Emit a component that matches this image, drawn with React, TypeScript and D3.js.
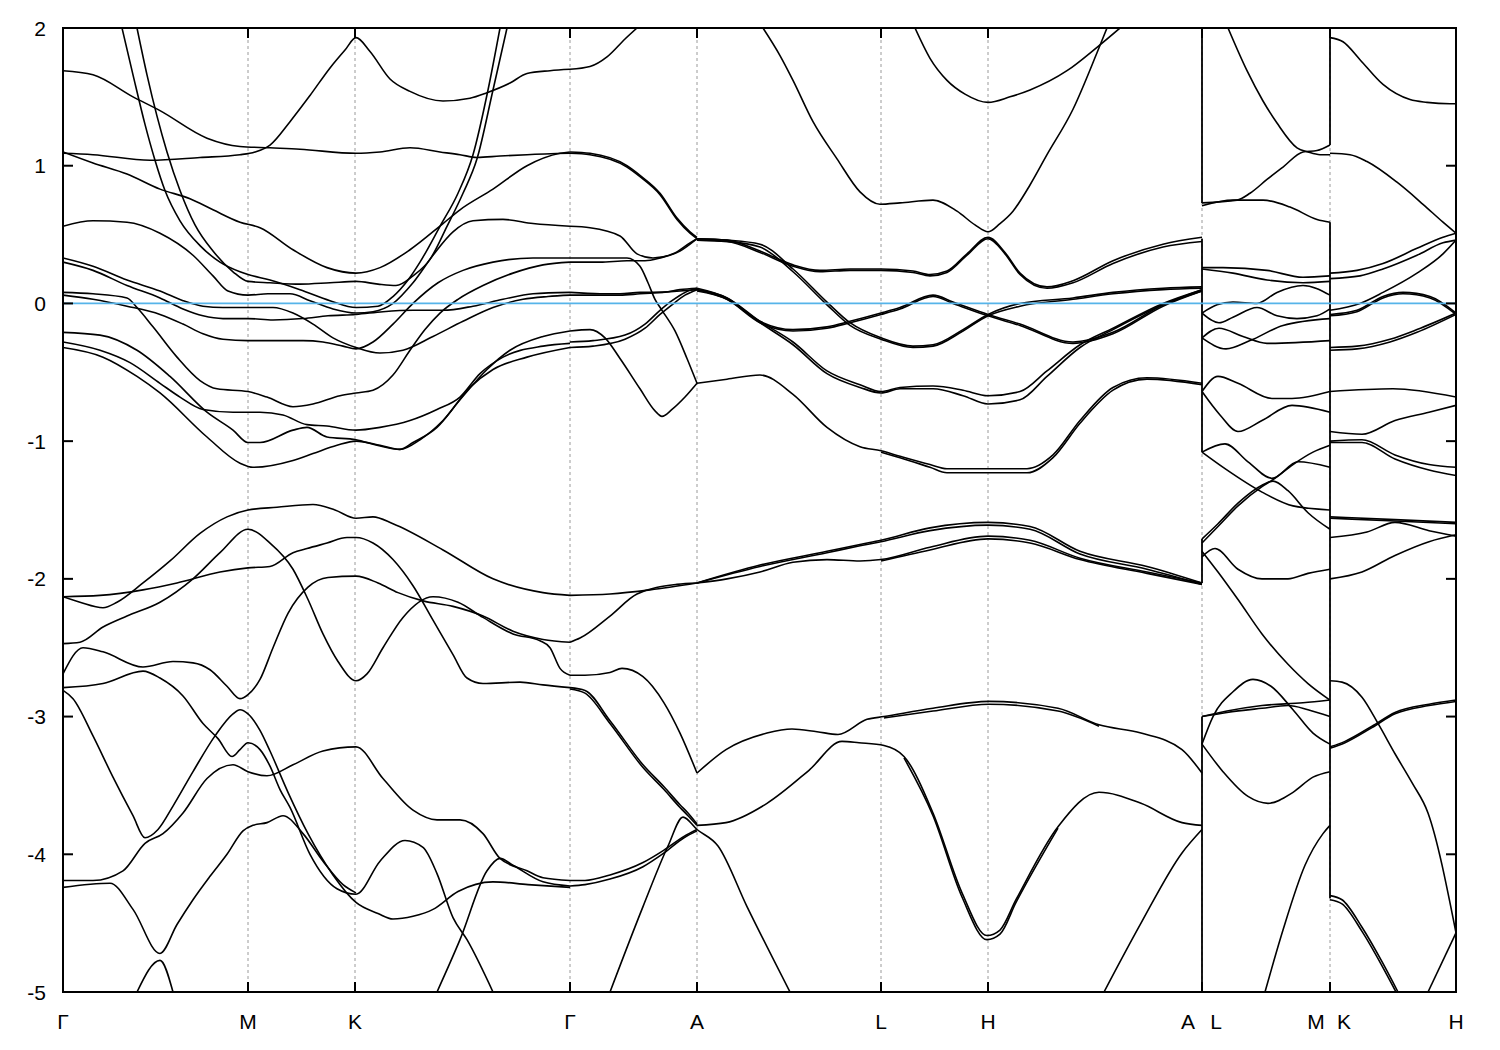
import React from 'react';
import * as d3 from 'd3';

type Pt = [number, number];

// High-symmetry points along the k-path (path-length units)
const kTicks = [0, 1.85, 2.92, 5.07, 6.34, 8.18, 9.25, 11.39, 12.67, 13.93];
const kLabels = ['Γ', 'M', 'K', 'Γ', 'A', 'L', 'H', 'A L', 'M K', 'H'];
const eTicks = [-5, -4, -3, -2, -1, 0, 1, 2];
const fermiLevel = 0;

// Band discontinuities at A|L and M|K (k, E top, E bottom)
const jumpK = [11.39, 11.39, 11.39, 11.39, 12.67, 12.67];
const jumpTop = [2.0, 0.47, -1.71, -3.0, 2.0, 0.59];
const jumpBottom = [0.73, -1.08, -2.03, -5.0, 1.15, -4.32];

// Γ - M - K - Γ
const bandsGMKG: Pt[][] = [
  [[0,1.09],[0.30,1.08],[0.87,1.04],[1.37,1.06],[1.77,1.08],[1.92,1.10],[2.07,1.15],[2.27,1.32],[2.47,1.51],[2.67,1.71],[2.82,1.84],[2.93,1.93],[3.07,1.83],[3.27,1.63],[3.47,1.54],[3.80,1.47],[4.07,1.49],[4.24,1.53],[4.47,1.60],[4.64,1.67],[4.87,1.69],[5.07,1.70]],
  [[0,1.69],[0.30,1.66],[0.70,1.50],[0.97,1.40],[1.44,1.20],[1.77,1.14],[2.07,1.13],[2.37,1.12],[2.93,1.09],[3.17,1.10],[3.47,1.13],[3.77,1.10],[3.97,1.08],[4.14,1.06],[4.37,1.07],[4.64,1.08],[5.07,1.09]],
  [[0,1.10],[0.30,1.02],[0.64,0.94],[0.97,0.83],[1.27,0.76],[1.50,0.68],[1.77,0.59],[1.97,0.55],[2.30,0.39],[2.64,0.26],[2.93,0.22],[3.17,0.26],[3.47,0.39],[3.80,0.58],[3.97,0.68],[4.30,0.83],[4.64,1.0],[4.97,1.09],[5.07,1.10]],
  [[0,0.56],[0.30,0.60],[0.64,0.59],[0.97,0.51],[1.30,0.35],[1.50,0.20],[1.65,0.09],[1.85,0.06],[2.05,0.07],[2.27,0.07],[2.47,0.02],[2.70,-0.04],[2.93,-0.07],[3.10,-0.06],[3.30,0.0],[3.50,0.15],[3.70,0.35],[3.90,0.52],[4.10,0.60],[4.40,0.61],[4.70,0.58],[5.07,0.56]],
  [[0.59,2.0],[0.70,1.66],[0.82,1.30],[0.92,1.04],[1.02,0.82],[1.17,0.60],[1.37,0.42],[1.57,0.30],[1.77,0.23],[1.85,0.21],[2.07,0.17],[2.37,0.10],[2.67,0.02],[2.93,-0.03],[3.15,-0.02],[3.30,0.05],[3.45,0.17],[3.57,0.30],[3.77,0.56],[3.95,0.80],[4.10,1.08],[4.25,1.55],[4.37,2.0]],
  [[0.74,2.0],[0.84,1.66],[0.94,1.36],[1.04,1.10],[1.17,0.82],[1.32,0.57],[1.50,0.38],[1.70,0.23],[1.85,0.16],[2.07,0.15],[2.37,0.14],[2.67,0.15],[2.93,0.16],[3.15,0.14],[3.33,0.13],[3.50,0.20],[3.67,0.32],[3.84,0.56],[4.00,0.80],[4.14,1.05],[4.30,1.55],[4.44,2.0]],
  [[0,0.33],[0.30,0.27],[0.64,0.17],[0.97,0.09],[1.20,0.02],[1.40,-0.02],[1.60,-0.03],[1.85,-0.03],[2.10,-0.03],[2.30,-0.07],[2.50,-0.15],[2.70,-0.25],[2.93,-0.32],[3.17,-0.36],[3.40,-0.34],[3.70,-0.24],[4.00,-0.13],[4.30,-0.03],[4.60,0.03],[4.85,0.05],[5.07,0.06]],
  [[0,0.30],[0.30,0.24],[0.64,0.13],[0.97,0.04],[1.20,-0.04],[1.40,-0.09],[1.60,-0.11],[1.85,-0.11],[2.10,-0.12],[2.40,-0.11],[2.65,-0.09],[2.93,-0.08],[3.20,-0.06],[3.50,-0.05],[3.80,-0.05],[4.10,-0.02],[4.40,0.03],[4.70,0.07],[5.07,0.08]],
  [[0,0.08],[0.30,0.07],[0.64,0.04],[0.74,-0.03],[0.90,-0.17],[1.14,-0.39],[1.37,-0.56],[1.54,-0.62],[1.85,-0.64],[2.04,-0.68],[2.30,-0.75],[2.50,-0.73],[2.77,-0.67],[2.93,-0.65],[3.10,-0.63],[3.30,-0.52],[3.47,-0.34],[3.62,-0.19],[3.77,-0.07],[3.95,0.03],[4.20,0.13],[4.50,0.22],[4.80,0.28],[5.07,0.30]],
  [[0,0.06],[0.30,0.03],[0.64,-0.02],[0.97,-0.08],[1.20,-0.15],[1.40,-0.22],[1.60,-0.26],[1.85,-0.27],[2.10,-0.27],[2.40,-0.27],[2.60,-0.28],[2.80,-0.31],[2.93,-0.33],[3.10,-0.28],[3.30,-0.15],[3.50,0.0],[3.75,0.15],[4.00,0.24],[4.30,0.30],[4.70,0.33],[5.07,0.33]],
  [[0,-0.21],[0.37,-0.23],[0.74,-0.34],[1.07,-0.53],[1.44,-0.79],[1.70,-0.92],[1.85,-1.01],[1.97,-1.01],[2.30,-0.92],[2.44,-0.90],[2.64,-0.97],[2.93,-0.99],[3.14,-1.03],[3.37,-1.06],[3.50,-1.01],[3.74,-0.90],[3.97,-0.70],[4.24,-0.48],[4.47,-0.34],[4.80,-0.24],[5.07,-0.20]],
  [[0,-0.28],[0.37,-0.34],[0.67,-0.43],[0.97,-0.58],[1.17,-0.68],[1.40,-0.77],[1.70,-0.79],[1.97,-0.79],[2.20,-0.81],[2.44,-0.88],[2.64,-0.89],[2.93,-0.92],[3.17,-0.90],[3.47,-0.85],[3.74,-0.77],[3.97,-0.68],[4.17,-0.51],[4.40,-0.39],[4.80,-0.31],[5.07,-0.29]],
  [[0,-0.32],[0.40,-0.39],[0.74,-0.53],[0.97,-0.65],[1.44,-0.97],[1.77,-1.16],[1.90,-1.19],[2.30,-1.14],[2.50,-1.09],[2.74,-1.03],[2.93,-1.0],[3.17,-1.03],[3.37,-1.06],[3.57,-0.99],[3.80,-0.85],[4.07,-0.61],[4.30,-0.48],[4.64,-0.39],[5.07,-0.32]],
  [[0,-2.13],[0.37,-2.12],[0.80,-2.08],[1.14,-2.03],[1.57,-1.95],[1.85,-1.92],[2.07,-1.91],[2.30,-1.81],[2.44,-1.78],[2.64,-1.74],[2.84,-1.70],[2.93,-1.70],[3.10,-1.74],[3.30,-1.86],[3.50,-2.05],[3.70,-2.30],[3.90,-2.55],[4.04,-2.72],[4.20,-2.76],[4.57,-2.75],[4.80,-2.77],[5.07,-2.79]],
  [[0,-2.13],[0.17,-2.17],[0.40,-2.21],[0.54,-2.17],[0.80,-2.03],[1.07,-1.87],[1.37,-1.67],[1.64,-1.55],[1.85,-1.50],[2.14,-1.48],[2.50,-1.46],[2.72,-1.50],[2.93,-1.56],[3.10,-1.55],[3.30,-1.60],[3.80,-1.79],[4.30,-2.0],[4.80,-2.10],[5.07,-2.12]],
  [[0,-2.47],[0.17,-2.46],[0.40,-2.35],[0.64,-2.27],[0.97,-2.17],[1.30,-2.0],[1.57,-1.81],[1.85,-1.64],[2.07,-1.74],[2.30,-1.93],[2.45,-2.15],[2.60,-2.40],[2.75,-2.60],[2.93,-2.74],[3.04,-2.69],[3.20,-2.50],[3.40,-2.28],[3.70,-2.13],[3.95,-2.17],[4.20,-2.28],[4.50,-2.40],[4.77,-2.45],[4.87,-2.50],[4.97,-2.65],[5.07,-2.70]],
  [[0,-2.69],[0.20,-2.50],[0.40,-2.53],[0.80,-2.64],[1.10,-2.60],[1.30,-2.61],[1.47,-2.66],[1.64,-2.78],[1.77,-2.87],[1.85,-2.84],[1.97,-2.73],[2.10,-2.50],[2.25,-2.25],[2.45,-2.06],[2.65,-1.99],[2.93,-1.98],[3.15,-2.03],[3.35,-2.10],[3.60,-2.16],[3.90,-2.20],[4.20,-2.27],[4.50,-2.38],[4.80,-2.44],[5.07,-2.46]],
  [[0,-2.79],[0.40,-2.76],[0.80,-2.67],[0.97,-2.72],[1.20,-2.85],[1.40,-3.05],[1.55,-3.16],[1.69,-3.29],[1.77,-3.24],[1.85,-3.19],[1.97,-3.24],[2.07,-3.36],[2.17,-3.53],[2.27,-3.66],[2.47,-4.0],[2.74,-4.25],[2.93,-4.29],[3.17,-4.05],[3.42,-3.90],[3.60,-3.95],[3.74,-4.14],[3.90,-4.46],[4.04,-4.62],[4.30,-5.0]],
  [[0,-2.81],[0.10,-2.87],[0.30,-3.14],[0.50,-3.44],[0.70,-3.72],[0.82,-3.88],[0.95,-3.82],[1.10,-3.65],[1.30,-3.40],[1.52,-3.14],[1.70,-2.98],[1.77,-2.95],[1.85,-2.98],[1.97,-3.10],[2.07,-3.25],[2.25,-3.55],[2.45,-3.85],[2.70,-4.15],[2.93,-4.35],[3.15,-4.43],[3.30,-4.47],[3.50,-4.45],[3.70,-4.40],[3.95,-4.27],[4.30,-4.20],[4.65,-4.22],[5.07,-4.24]],
  [[0,-4.19],[0.30,-4.19],[0.60,-4.12],[0.82,-3.92],[1.00,-3.85],[1.20,-3.70],[1.44,-3.45],[1.70,-3.35],[1.85,-3.40],[2.04,-3.43],[2.30,-3.35],[2.60,-3.25],[2.93,-3.22],[3.20,-3.45],[3.50,-3.68],[3.74,-3.75],[3.97,-3.75],[4.20,-3.85],[4.37,-4.03],[4.64,-4.12],[4.80,-4.17],[5.07,-4.19]],
  [[0,-4.24],[0.47,-4.21],[0.70,-4.40],[0.97,-4.72],[1.14,-4.51],[1.30,-4.33],[1.47,-4.16],[1.64,-4.0],[1.80,-3.83],[1.90,-3.79],[2.04,-3.77],[2.20,-3.72],[2.40,-3.85],[2.60,-4.05],[2.80,-4.22],[2.93,-4.28]],
  [[0.74,-5.0],[0.97,-4.77],[1.10,-5.0]],
  [[3.74,-5.0],[3.97,-4.62],[4.24,-4.12],[4.37,-4.03],[4.50,-4.08],[4.80,-4.20],[5.07,-4.23]],
];

// Γ - A
const bandsGA: Pt[][] = [
  [[5.07,1.70],[5.27,1.72],[5.44,1.79],[5.62,1.92],[5.74,2.0]],
  [[5.07,1.10],[5.27,1.09],[5.64,1.00],[5.77,0.93],[5.97,0.80],[6.14,0.62],[6.27,0.52],[6.34,0.48]],
  [[5.07,1.09],[5.27,1.08],[5.64,0.99],[5.77,0.92],[5.97,0.79],[6.14,0.61],[6.27,0.51],[6.34,0.47]],
  [[5.07,0.56],[5.27,0.55],[5.57,0.49],[5.74,0.36],[5.90,0.33],[6.10,0.36],[6.27,0.44],[6.34,0.47]],
  [[5.07,0.33],[5.37,0.33],[5.64,0.33],[5.77,0.27],[5.85,0.15],[5.92,0.03],[5.99,-0.05],[6.12,-0.20],[6.24,-0.40],[6.34,-0.58]],
  [[5.07,0.30],[5.37,0.30],[5.64,0.31],[5.82,0.31],[5.97,0.33],[6.17,0.38],[6.34,0.47]],
  [[5.07,-0.28],[5.30,-0.27],[5.62,-0.23],[5.82,-0.15],[5.97,-0.05],[6.09,0.02],[6.22,0.08],[6.34,0.11]],
  [[5.07,-0.32],[5.30,-0.31],[5.62,-0.26],[5.82,-0.18],[5.97,-0.08],[6.09,-0.01],[6.22,0.06],[6.34,0.10]],
  [[5.07,0.08],[5.37,0.07],[5.57,0.07],[5.77,0.08],[5.97,0.08],[6.17,0.10],[6.34,0.11]],
  [[5.07,0.06],[5.37,0.06],[5.57,0.06],[5.77,0.07],[5.97,0.08],[6.17,0.09],[6.34,0.10]],
  [[5.07,-0.20],[5.27,-0.19],[5.42,-0.25],[5.57,-0.40],[5.77,-0.62],[5.92,-0.78],[5.99,-0.82],[6.09,-0.77],[6.22,-0.68],[6.34,-0.58]],
  [[5.07,-2.12],[5.47,-2.11],[5.87,-2.08],[6.34,-2.03]],
  [[5.07,-2.46],[5.17,-2.43],[5.47,-2.27],[5.74,-2.11],[6.14,-2.04],[6.34,-2.03]],
  [[5.07,-2.70],[5.22,-2.70],[5.47,-2.68],[5.59,-2.65],[5.80,-2.71],[6.01,-2.90],[6.17,-3.12],[6.34,-3.41]],
  [[5.07,-2.80],[5.22,-2.83],[5.47,-3.05],[5.80,-3.37],[6.01,-3.53],[6.17,-3.66],[6.25,-3.72],[6.34,-3.79]],
  [[5.07,-2.79],[5.22,-2.81],[5.47,-3.03],[5.80,-3.35],[6.01,-3.51],[6.17,-3.64],[6.25,-3.70],[6.34,-3.78]],
  [[5.07,-4.19],[5.22,-4.19],[5.47,-4.15],[5.80,-4.06],[6.01,-3.97],[6.21,-3.87],[6.34,-3.82]],
  [[5.07,-4.23],[5.22,-4.22],[5.47,-4.18],[5.80,-4.09],[6.01,-3.99],[6.21,-3.88],[6.34,-3.83]],
  [[5.47,-5.0],[5.80,-4.38],[6.05,-3.94],[6.20,-3.73],[6.34,-3.82],[6.55,-3.94],[6.84,-4.38],[7.27,-5.0]],
];

// A - L - H - A
const bandsALHA: Pt[][] = [
  [[7.00,2.0],[7.17,1.80],[7.30,1.62],[7.50,1.32],[7.74,1.05],[7.97,0.81],[8.17,0.72],[8.37,0.73],[8.70,0.75],[8.94,0.67],[9.12,0.57],[9.25,0.52],[9.37,0.58],[9.50,0.67],[9.67,0.86],[9.84,1.08],[10.10,1.41],[10.34,1.82],[10.44,2.0]],
  [[8.52,2.0],[8.67,1.78],[8.84,1.62],[9.02,1.52],[9.25,1.46],[9.47,1.50],[9.67,1.55],[10.04,1.69],[10.34,1.86],[10.57,2.0]],
  [[6.34,0.47],[6.64,0.46],[6.97,0.38],[7.30,0.28],[7.57,0.24],[7.87,0.25],[8.18,0.25],[8.50,0.235],[8.67,0.21],[8.84,0.235],[9.04,0.36],[9.25,0.48],[9.42,0.37],[9.57,0.22],[9.84,0.12],[10.10,0.165],[10.50,0.31],[11.0,0.43],[11.39,0.48]],
  [[6.34,0.46],[6.64,0.45],[6.97,0.37],[7.30,0.27],[7.57,0.23],[7.87,0.24],[8.18,0.24],[8.50,0.225],[8.67,0.20],[8.84,0.225],[9.04,0.35],[9.25,0.47],[9.42,0.36],[9.57,0.21],[9.84,0.11],[10.10,0.15],[10.50,0.29],[11.0,0.41],[11.39,0.45]],
  [[6.34,0.47],[6.64,0.46],[6.97,0.43],[7.30,0.25],[7.64,0.01],[7.87,-0.14],[8.18,-0.25],[8.50,-0.31],[8.70,-0.30],[9.00,-0.19],[9.25,-0.08],[9.57,0.0],[10.10,0.04],[10.50,0.08],[11.0,0.11],[11.39,0.12]],
  [[6.34,0.46],[6.64,0.45],[6.97,0.41],[7.30,0.23],[7.64,-0.01],[7.87,-0.16],[8.18,-0.26],[8.50,-0.32],[8.70,-0.31],[9.00,-0.20],[9.25,-0.09],[9.57,-0.02],[10.10,0.03],[10.50,0.07],[11.0,0.10],[11.39,0.11]],
  [[6.34,0.11],[6.64,0.04],[6.97,-0.13],[7.30,-0.19],[7.64,-0.17],[7.87,-0.13],[8.18,-0.07],[8.37,-0.03],[8.70,0.06],[8.90,0.01],[9.25,-0.08],[9.57,-0.15],[10.10,-0.28],[10.50,-0.21],[11.0,-0.01],[11.39,0.10]],
  [[6.34,0.10],[6.64,0.03],[6.97,-0.14],[7.30,-0.20],[7.64,-0.18],[7.87,-0.14],[8.18,-0.08],[8.37,-0.04],[8.70,0.05],[8.90,0.0],[9.25,-0.09],[9.57,-0.16],[10.10,-0.29],[10.50,-0.22],[11.0,-0.02],[11.39,0.09]],
  [[6.34,0.10],[6.64,0.04],[6.97,-0.13],[7.30,-0.28],[7.64,-0.49],[7.97,-0.59],[8.18,-0.64],[8.37,-0.61],[8.70,-0.60],[9.00,-0.63],[9.25,-0.67],[9.57,-0.64],[9.84,-0.49],[10.17,-0.30],[10.50,-0.18],[11.0,0.0],[11.39,0.10]],
  [[6.34,0.09],[6.64,0.03],[6.97,-0.14],[7.30,-0.30],[7.64,-0.51],[7.97,-0.61],[8.18,-0.65],[8.37,-0.62],[8.70,-0.62],[9.00,-0.67],[9.25,-0.73],[9.57,-0.70],[9.84,-0.53],[10.17,-0.32],[10.50,-0.19],[11.0,-0.01],[11.39,0.09]],
  [[6.34,-0.58],[6.64,-0.55],[6.97,-0.52],[7.30,-0.66],[7.64,-0.90],[7.97,-1.04],[8.18,-1.07],[8.37,-1.11],[8.67,-1.17],[8.84,-1.20],[9.25,-1.20],[9.64,-1.20],[9.90,-1.10],[10.17,-0.85],[10.50,-0.61],[10.84,-0.54],[11.39,-0.58]],
  [[8.18,-1.08],[8.37,-1.12],[8.67,-1.19],[8.84,-1.23],[9.25,-1.23],[9.64,-1.23],[9.90,-1.12],[10.17,-0.87],[10.50,-0.63],[10.84,-0.55],[11.39,-0.59]],
  [[6.34,-2.03],[6.97,-1.90],[7.64,-1.80],[7.97,-1.75],[8.18,-1.72],[8.67,-1.63],[9.25,-1.59],[9.67,-1.62],[10.17,-1.80],[10.84,-1.91],[11.39,-2.03]],
  [[6.34,-2.03],[6.97,-1.91],[7.64,-1.81],[7.97,-1.76],[8.18,-1.73],[8.67,-1.65],[9.25,-1.61],[9.67,-1.64],[10.17,-1.82],[10.84,-1.93],[11.39,-2.04]],
  [[6.34,-2.03],[6.64,-2.0],[6.97,-1.95],[7.30,-1.88],[7.64,-1.86],[7.97,-1.87],[8.18,-1.86],[8.67,-1.77],[9.25,-1.69],[9.67,-1.72],[10.17,-1.85],[10.84,-1.95],[11.39,-2.03]],
  [[8.18,-1.87],[8.67,-1.79],[9.25,-1.71],[9.67,-1.74],[10.17,-1.86],[10.84,-1.96],[11.39,-2.04]],
  [[6.34,-3.41],[6.63,-3.24],[7.04,-3.12],[7.29,-3.09],[7.54,-3.11],[7.75,-3.13],[8.04,-3.02],[8.21,-3.0],[8.70,-2.94],[9.26,-2.89],[9.95,-2.94],[10.36,-3.06],[10.78,-3.12],[11.19,-3.24],[11.39,-3.41]],
  [[8.21,-3.01],[8.70,-2.96],[9.26,-2.91],[9.95,-2.96],[10.36,-3.07]],
  [[6.34,-3.79],[6.63,-3.77],[7.04,-3.63],[7.46,-3.39],[7.79,-3.18],[7.96,-3.19],[8.21,-3.21],[8.41,-3.29],[8.70,-3.70],[8.99,-4.28],[9.24,-4.59],[9.37,-4.55],[9.53,-4.33],[9.95,-3.80],[10.36,-3.55],[10.78,-3.63],[11.19,-3.77],[11.39,-3.79]],
  [[8.41,-3.30],[8.70,-3.72],[8.99,-4.31],[9.24,-4.62],[9.37,-4.58],[9.53,-4.35],[9.95,-3.81]],
  [[10.41,-5.0],[10.78,-4.5],[11.19,-3.99],[11.39,-3.82]],
];

// L - M
const bandsLM: Pt[][] = [
  [[11.65,2.0],[11.84,1.69],[12.0,1.47],[12.14,1.31],[12.34,1.13],[12.45,1.10],[12.57,1.08],[12.67,1.08]],
  [[11.39,0.73],[11.74,0.75],[11.87,0.80],[12.04,0.90],[12.20,0.99],[12.40,1.10],[12.54,1.11],[12.67,1.15]],
  [[11.39,0.71],[11.70,0.75],[12.0,0.75],[12.27,0.70],[12.54,0.61],[12.67,0.59]],
  [[11.39,0.26],[11.60,0.26],[12.04,0.24],[12.40,0.19],[12.67,0.20]],
  [[11.39,0.25],[11.70,0.22],[12.04,0.17],[12.40,0.15],[12.67,0.16]],
  [[11.39,-0.07],[11.54,-0.01],[11.70,0.01],[11.94,0.0],[12.14,0.08],[12.40,0.13],[12.67,0.06]],
  [[11.39,-0.07],[11.56,-0.14],[11.70,-0.10],[11.94,-0.03],[12.14,-0.09],[12.34,-0.11],[12.54,-0.09],[12.67,-0.04]],
  [[11.39,-0.25],[11.56,-0.18],[11.80,-0.24],[12.04,-0.29],[12.67,-0.27]],
  [[11.39,-0.25],[11.63,-0.33],[11.87,-0.27],[12.20,-0.16],[12.67,-0.11]],
  [[11.39,-0.64],[11.55,-0.53],[11.75,-0.58],[12.09,-0.69],[12.29,-0.69],[12.67,-0.64]],
  [[11.39,-0.64],[11.57,-0.81],[11.75,-0.93],[11.99,-0.85],[12.29,-0.74],[12.67,-0.79]],
  [[11.39,-1.08],[11.62,-1.02],[11.85,-1.15],[12.09,-1.27],[12.35,-1.15],[12.67,-1.19]],
  [[11.39,-1.08],[11.62,-1.20],[11.99,-1.37],[12.30,-1.47],[12.67,-1.50]],
  [[11.39,-1.71],[11.55,-1.60],[11.75,-1.45],[11.99,-1.32],[12.10,-1.29],[12.25,-1.36],[12.45,-1.52],[12.67,-1.64]],
  [[11.39,-1.74],[11.55,-1.62],[11.75,-1.47],[11.99,-1.33],[12.10,-1.28],[12.30,-1.17],[12.50,-1.08],[12.67,-1.03]],
  [[11.39,-1.80],[11.55,-1.95],[11.75,-2.15],[11.99,-2.40],[12.25,-2.62],[12.45,-2.76],[12.67,-2.88]],
  [[11.39,-1.84],[11.52,-1.78],[11.75,-1.93],[11.99,-2.0],[12.25,-2.0],[12.45,-1.96],[12.67,-1.93]],
  [[11.39,-3.0],[11.64,-2.96],[11.99,-2.92],[12.40,-2.90],[12.67,-2.88]],
  [[11.39,-3.0],[11.64,-2.97],[11.99,-2.94],[12.25,-2.92],[12.45,-2.95],[12.67,-3.0]],
  [[11.39,-3.20],[11.50,-3.0],[11.70,-2.82],[11.90,-2.73],[12.08,-2.78],[12.30,-2.95],[12.50,-3.12],[12.67,-3.20]],
  [[11.39,-3.20],[11.60,-3.40],[11.85,-3.58],[12.05,-3.63],[12.30,-3.55],[12.50,-3.44],[12.67,-3.40]],
  [[12.02,-5.0],[12.20,-4.55],[12.42,-4.08],[12.60,-3.85],[12.67,-3.79]],
];

// K - H
const bandsKH: Pt[][] = [
  [[12.67,1.93],[12.80,1.90],[12.97,1.77],[13.20,1.59],[13.47,1.48],[13.64,1.46],[13.87,1.45],[13.93,1.45]],
  [[12.67,1.09],[12.87,1.08],[13.04,1.03],[13.34,0.88],[13.60,0.72],[13.80,0.59],[13.93,0.51]],
  [[12.67,0.22],[12.94,0.24],[13.20,0.29],[13.54,0.40],[13.80,0.48],[13.93,0.51]],
  [[12.67,0.18],[12.97,0.20],[13.20,0.25],[13.54,0.35],[13.80,0.44],[13.93,0.46]],
  [[12.67,-0.05],[12.97,0.0],[13.20,0.08],[13.54,0.22],[13.80,0.36],[13.93,0.46]],
  [[12.67,-0.08],[12.94,-0.05],[13.20,0.05],[13.40,0.08],[13.67,0.05],[13.93,-0.07]],
  [[12.67,-0.09],[12.94,-0.06],[13.20,0.04],[13.40,0.07],[13.67,0.04],[13.93,-0.08]],
  [[12.67,-0.32],[12.94,-0.31],[13.27,-0.26],[13.54,-0.19],[13.93,-0.07]],
  [[12.67,-0.34],[12.94,-0.33],[13.27,-0.28],[13.54,-0.21],[13.93,-0.08]],
  [[12.67,-0.64],[13.30,-0.62],[13.93,-0.68]],
  [[12.67,-0.93],[12.99,-0.95],[13.32,-0.85],[13.66,-0.79],[13.93,-0.74]],
  [[12.67,-1.0],[12.99,-0.99],[13.32,-1.10],[13.66,-1.17],[13.93,-1.19]],
  [[12.67,-1.01],[12.99,-1.01],[13.32,-1.13],[13.66,-1.21],[13.93,-1.25]],
  [[12.67,-1.55],[13.32,-1.57],[13.93,-1.59]],
  [[12.67,-1.56],[13.32,-1.58],[13.93,-1.60]],
  [[12.67,-1.70],[13.04,-1.66],[13.32,-1.59],[13.66,-1.65],[13.93,-1.69]],
  [[12.67,-2.0],[12.99,-1.95],[13.32,-1.83],[13.66,-1.73],[13.93,-1.68]],
  [[12.67,-2.74],[12.79,-2.75],[12.99,-2.86],[13.15,-3.05],[13.32,-3.27],[13.49,-3.48],[13.65,-3.70],[13.93,-4.57]],
  [[12.67,-3.22],[12.82,-3.18],[13.09,-3.07],[13.32,-2.97],[13.66,-2.91],[13.93,-2.88]],
  [[12.67,-3.23],[12.82,-3.19],[13.09,-3.08],[13.32,-2.98],[13.66,-2.92],[13.93,-2.89]],
  [[12.67,-4.30],[12.79,-4.33],[12.99,-4.53],[13.19,-4.78],[13.35,-5.0]],
  [[12.67,-4.33],[12.79,-4.36],[12.99,-4.56],[13.19,-4.81],[13.33,-5.0]],
  [[13.65,-5.0],[13.93,-4.57]],
];

const allBands: Pt[][] = [...bandsGMKG, ...bandsGA, ...bandsALHA, ...bandsLM, ...bandsKH];

export default function App() {
  const W = 1500;
  const H = 1050;
  const left = 63, right = 1456, top = 28, bottom = 992;
  const x = d3.scaleLinear().domain([kTicks[0], kTicks[kTicks.length - 1]]).range([left, right]);
  const y = d3.scaleLinear().domain([-5, 2]).range([bottom, top]);
  const line = d3.line<Pt>().x(d => x(d[0])).y(d => y(d[1])).curve(d3.curveMonotoneX);
  const font = "'Liberation Sans', Arial, Helvetica, sans-serif";
  const fs = 21;
  const tickLen = 10;
  const pairGap = 14;

  return (
    <svg width={W} height={H} style={{ position: 'absolute', left: 0, top: 0, background: '#fff' }}>
      <defs>
        <clipPath id="plotArea">
          <rect x={left} y={top} width={right - left} height={bottom - top} />
        </clipPath>
      </defs>
      <rect x={0} y={0} width={W} height={H} fill="#fff" />
      {kTicks.slice(1, -1).map((k, i) => (
        <line key={'g' + i} x1={x(k)} x2={x(k)} y1={top} y2={bottom} stroke="#9a9a9a" strokeWidth={1} strokeDasharray="3,3" />
      ))}
      <g clipPath="url(#plotArea)">
        {allBands.map((b, i) => (
          <path key={'b' + i} d={line(b) || ''} fill="none" stroke="#000" strokeWidth={1.6} strokeLinejoin="round" />
        ))}
        {jumpK.map((k, i) => (
          <line key={'j' + i} x1={x(k)} x2={x(k)} y1={y(jumpTop[i])} y2={y(jumpBottom[i])} stroke="#000" strokeWidth={1.8} />
        ))}
        <line x1={left} x2={right} y1={y(fermiLevel)} y2={y(fermiLevel)} stroke="#56b4e9" strokeWidth={1.8} />
      </g>
      <rect x={left} y={top} width={right - left} height={bottom - top} fill="none" stroke="#000" strokeWidth={2} />
      {eTicks.map((e, i) => (
        <g key={'y' + i}>
          <line x1={left} x2={left + tickLen} y1={y(e)} y2={y(e)} stroke="#000" strokeWidth={2} />
          <line x1={right} x2={right - tickLen} y1={y(e)} y2={y(e)} stroke="#000" strokeWidth={2} />
          <text x={left - 17} y={y(e) + 7.5} textAnchor="end" fontFamily={font} fontSize={fs} fill="#000">{e}</text>
        </g>
      ))}
      {kTicks.map((k, i) => {
        const parts = kLabels[i].split(' ');
        return (
          <g key={'x' + i}>
            <line x1={x(k)} x2={x(k)} y1={bottom} y2={bottom - tickLen} stroke="#000" strokeWidth={2} />
            <line x1={x(k)} x2={x(k)} y1={top} y2={top + tickLen} stroke="#000" strokeWidth={2} />
            {parts.length === 1 ? (
              <text x={x(k)} y={bottom + 37} textAnchor="middle" fontFamily={font} fontSize={fs} fill="#000">{parts[0]}</text>
            ) : (
              <>
                <text x={x(k) - pairGap} y={bottom + 37} textAnchor="middle" fontFamily={font} fontSize={fs} fill="#000">{parts[0]}</text>
                <text x={x(k) + pairGap} y={bottom + 37} textAnchor="middle" fontFamily={font} fontSize={fs} fill="#000">{parts[1]}</text>
              </>
            )}
          </g>
        );
      })}
    </svg>
  );
}
